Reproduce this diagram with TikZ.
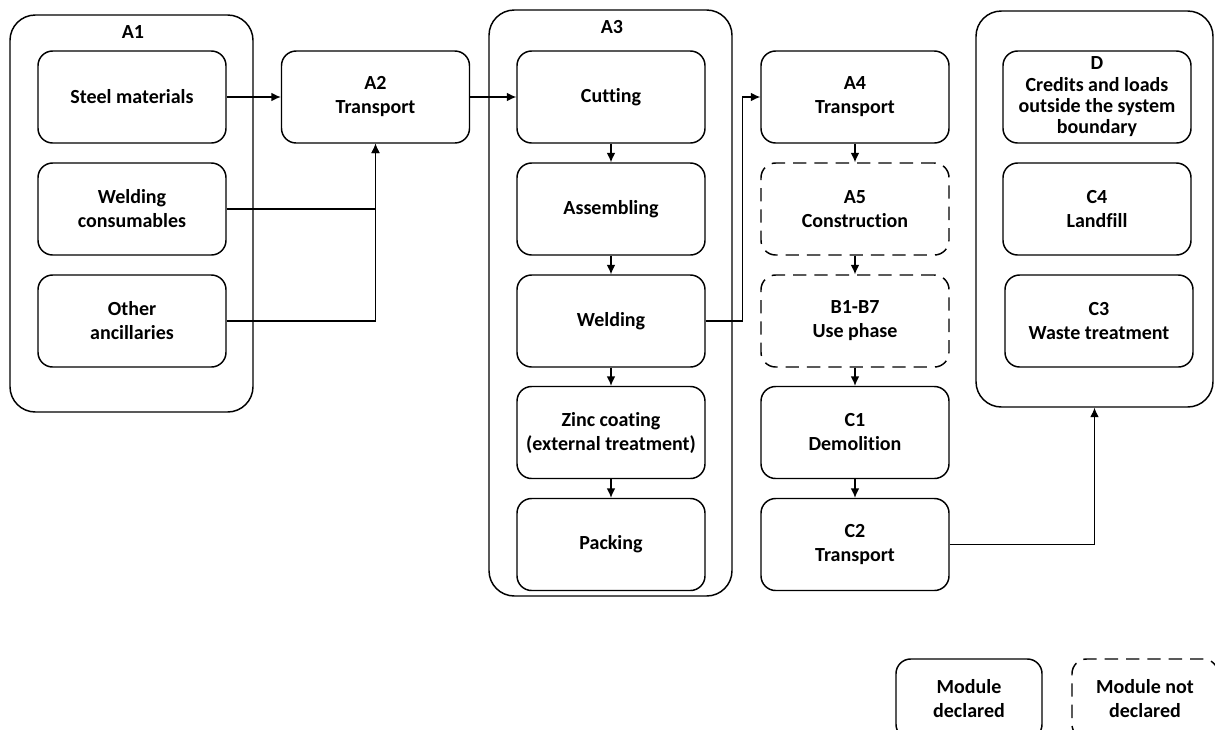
\documentclass[tikz,border=0pt]{standalone}
\usepackage{fontspec}
\setmainfont{Carlito}[Ligatures=NoCommon]
\usetikzlibrary{arrows.meta}

\tikzset{
  module/.style={draw, line width=1.1pt, rounded corners=11pt, minimum width=141pt, minimum height=69pt, align=center, inner sep=2pt},
  nodecl/.style={module, dash pattern=on 10pt off 6pt},
  group/.style={draw, line width=1.1pt, rounded corners=19pt, inner sep=0pt},
  flow/.style={line width=0.9pt, -{Latex[length=7pt,width=6.5pt]}},
}

\begin{document}
\begin{tikzpicture}[x=0.75pt, y=-0.75pt, font=\fontsize{15}{18}\selectfont\bfseries]
    \clip (0,0) rectangle (1215,729);

    % system boundaries
    \node[group, minimum width=182.25pt, minimum height=297.75pt] (grpA1) at (131.5,213.5) {};
    \node[group, minimum width=182.25pt, minimum height=439.5pt] (grpA3) at (610.5,303) {};
    \node[group, minimum width=177.75pt, minimum height=297pt] (grpD) at (1094.5,209) {};
    \node (lblA1) at (133,32) {A1};
    \node (lblA3) at (612,27) {A3};

    % A1 - A2
    \node[module] (steel) at (132,97) {Steel materials};
    \node[module] (weldcons) at (132,209) {Welding\\consumables};
    \node[module] (other) at (132,321) {Other\\ancillaries};
    \node[module] (A2) at (375.5,97) {A2\\Transport};

    % A3
    \node[module] (cutting) at (611,97) {Cutting};
    \node[module] (assembling) at (611,209) {Assembling};
    \node[module] (welding) at (611,321) {Welding};
    \node[module] (zinc) at (611,432.5) {Zinc coating\\(external treatment)};
    \node[module] (packing) at (611,544.5) {Packing};

    % A4 - C2
    \node[module] (A4) at (855,97) {A4\\Transport};
    \node[nodecl] (A5) at (855,209) {A5\\Construction};
    \node[nodecl] (B17) at (855,321) {B1-B7\\Use phase};
    \node[module] (C1) at (855,432.5) {C1\\Demolition};
    \node[module] (C2) at (855,544.5) {C2\\Transport};

    % C3, C4, D
    \node[module, font=\fontsize{15}{16}\selectfont\bfseries] (D) at (1097,97) {D\\Credits and loads\\outside the system\\boundary};
    \node[module] (C4) at (1097,209) {C4\\Landfill};
    \node[module] (C3) at (1099,321) {C3\\Waste treatment};

    % legend
    \node[module, minimum width=109.5pt, minimum height=60pt] (legdecl) at (969,699) {Module\\declared};
    \node[nodecl, minimum width=109.5pt, minimum height=60pt] (legnodecl) at (1145,699) {Module not\\declared};

    % flows
    \draw[flow] (steel) -- (A2);
    \draw[flow] (weldcons.east) -| (A2.south);
    \draw[flow] (other.east) -| (A2.south);
    \draw[flow] (A2.east) -- (cutting.west);
    \draw[flow] (cutting) -- (assembling);
    \draw[flow] (assembling) -- (welding);
    \draw[flow] (welding) -- (zinc);
    \draw[flow] (zinc) -- (packing);
    \draw[flow] (welding.east) -- ++(37,0) |- (A4.west);
    \draw[flow] (A4) -- (A5);
    \draw[flow] (A5) -- (B17);
    \draw[flow] (B17) -- (C1);
    \draw[flow] (C1) -- (C2);
    \draw[flow] (C2.east) -| (grpD.south);
\end{tikzpicture}
\end{document}
